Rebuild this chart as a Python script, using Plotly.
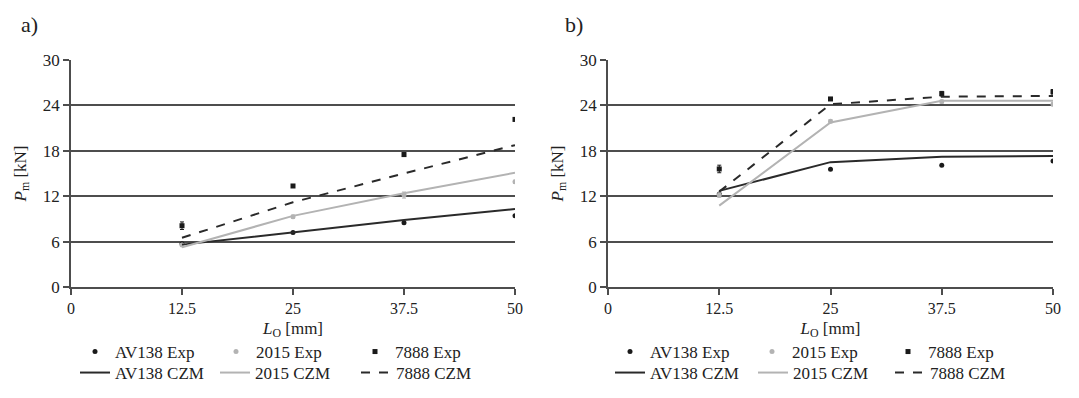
import plotly.graph_objects as go

L0 = [12.5, 25, 37.5, 50]
x_ticks = [0, 12.5, 25, 37.5, 50]
x_tick_labels = ["0", "12.5", "25", "37.5", "50"]
y_ticks = [0, 6, 12, 18, 24, 30]
series_names = ["AV138 Exp", "2015 Exp", "7888 Exp", "AV138 CZM", "2015 CZM", "7888 CZM"]

# Panel a)
a_av138_exp = [5.7, 7.2, 8.5, 9.4]
a_2015_exp = [5.55, 9.3, 12.15, 13.9]
a_7888_exp = [8.1, 13.35, 17.5, 22.15]
a_7888_err = [0.5, 0.2, 0.25, 0.2]
a_2015_err = [0.2, 0.2, 0.4, 0.2]
a_av138_czm = [5.6, 7.2, 8.85, 10.3]
a_2015_czm = [5.25, 9.4, 12.4, 15.1]
a_7888_czm = [6.5, 11.2, 15.0, 18.75]

# Panel b)
b_av138_exp = [12.3, 15.55, 16.1, 16.65]
b_2015_exp = [12.15, 21.9, 24.5, 24.15]
b_7888_exp = [15.6, 24.85, 25.55, 25.8]
b_7888_err = [0.5, 0.2, 0.3, 0.3]
b_2015_err = [0.3, 0.2, 0.2, 0.2]
b_av138_czm = [12.7, 16.5, 17.2, 17.3]
b_2015_czm = [10.75, 21.75, 24.6, 24.6]
b_7888_czm = [12.6, 24.15, 25.15, 25.25]

FONT = "Liberation Serif, Times New Roman, serif"
TXT = "#222222"
BLACK = "#1a1a1a"
GRAY = "#b3b3b3"
AXC = "#4d4d4d"
W, H = 1079, 398

fig = go.Figure()

# legend text start positions (px) for each panel: rows of 3
leg_text_x = {
    "a": [115, 256, 395, 115, 255, 396],
    "b": [650, 792, 928, 650, 793, 930],
}
row_of = [0, 0, 0, 1, 1, 1]
row_center = [350, 371]

legends = {}

def add_panel(tag, xa, ya, idx0, data):
    av_e, g_e, s_e, s_err, g_err, av_c, g_c, s_c = data
    specs = [
        dict(y=av_e, mode="markers", marker=dict(symbol="circle", size=5, color=BLACK)),
        dict(y=g_e, mode="markers", marker=dict(symbol="circle", size=5, color=GRAY),
             error_y=dict(type="data", array=g_err, color=GRAY, thickness=1, width=2)),
        dict(y=s_e, mode="markers", marker=dict(symbol="square", size=5, color=BLACK),
             error_y=dict(type="data", array=s_err, color=BLACK, thickness=1, width=2)),
        dict(y=av_c, mode="lines", line=dict(color="#2a2a2a", width=2)),
        dict(y=g_c, mode="lines", line=dict(color=GRAY, width=2)),
        dict(y=s_c, mode="lines", line=dict(color="#2a2a2a", width=2, dash="dash")),
    ]
    for i, sp in enumerate(specs):
        n = idx0 + i
        lname = "legend" if n == 1 else f"legend{n}"
        fig.add_trace(go.Scatter(x=L0, name=series_names[i], xaxis=xa, yaxis=ya,
                                 legend=lname, **sp))
        tx = leg_text_x[tag][i]
        cy = row_center[row_of[i]]
        legends[lname] = dict(
            x=(tx - 40) / W, y=(H - (cy - 16)) / H, xanchor="left", yanchor="top",
            orientation="h", bgcolor="rgba(0,0,0,0)", borderwidth=0,
            font=dict(family=FONT, size=17, color=TXT), itemwidth=30,
        )

add_panel("a", "x", "y", 1, (a_av138_exp, a_2015_exp, a_7888_exp, a_7888_err, a_2015_err,
                             a_av138_czm, a_2015_czm, a_7888_czm))
add_panel("b", "x2", "y2", 7, (b_av138_exp, b_2015_exp, b_7888_exp, b_7888_err, b_2015_err,
                              b_av138_czm, b_2015_czm, b_7888_czm))

y_dom = [(H - 287) / H, (H - 60) / H]

xaxis_common = dict(range=[0, 50], tickvals=x_ticks, ticktext=x_tick_labels,
                    showgrid=False, zeroline=False, showline=True, linecolor=AXC, linewidth=1.5,
                    ticks="outside", ticklen=6, tickcolor=AXC, tickwidth=1.5, automargin=False,
                    tickfont=dict(family=FONT, size=16, color=TXT),
                    title=dict(text="<i>L</i><sub>O</sub> [mm]", font=dict(family=FONT, size=17, color=TXT),
                               standoff=6))
yaxis_common = dict(range=[0, 30], tickvals=y_ticks,
                    showgrid=True, gridcolor=AXC, gridwidth=1.6, zeroline=False,
                    showline=True, linecolor=AXC, linewidth=1.5, automargin=False,
                    ticks="outside", ticklen=6, tickcolor=AXC, tickwidth=1.5,
                    tickfont=dict(family=FONT, size=17, color=TXT),
                    title=dict(text="<i>P</i><sub>m</sub> [kN]", font=dict(family=FONT, size=17, color=TXT),
                               standoff=12))

fig.update_layout(
    width=W, height=H,
    margin=dict(l=0, r=0, t=0, b=0),
    font=dict(family=FONT, size=16, color=TXT),
    paper_bgcolor="white", plot_bgcolor="white",
    showlegend=True,
    xaxis=dict(domain=[71 / W, 515 / W], anchor="y", **xaxis_common),
    yaxis=dict(domain=y_dom, anchor="x", **yaxis_common),
    xaxis2=dict(domain=[608 / W, 1053 / W], anchor="y2", **xaxis_common),
    yaxis2=dict(domain=y_dom, anchor="x2", **yaxis_common),
    annotations=[
        dict(text="a)", x=19 / W, y=(H - 24) / H, xref="paper", yref="paper", showarrow=False,
             xanchor="left", yanchor="middle", font=dict(family=FONT, size=22, color=TXT)),
        dict(text="b)", x=563 / W, y=(H - 24) / H, xref="paper", yref="paper", showarrow=False,
             xanchor="left", yanchor="middle", font=dict(family=FONT, size=22, color=TXT)),
    ],
    **legends,
)

fig.write_html("out.html")
